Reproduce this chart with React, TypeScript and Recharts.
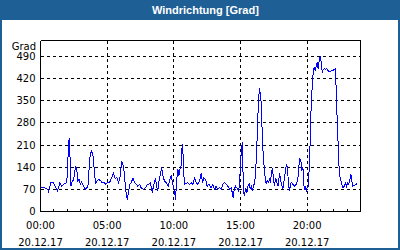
import { LineChart, Line, XAxis, YAxis, CartesianGrid, ReferenceLine } from 'recharts';

const BLUE_FRAME = '#1e5f96';
const LINE_BLUE = '#0000ff';

// Messzeitpunkte (Stunden seit 00:00) und Windrichtung in Grad
const hours = [
  0, 0.15, 0.33, 0.53, 0.6, 0.78, 0.95, 1.1, 1.28, 1.45, 1.58, 1.78, 1.95, 2.03, 2.08, 2.15, 2.2, 2.28, 2.35, 2.48,
  2.58, 2.65, 2.73, 2.8, 2.9, 2.98, 3.08, 3.23, 3.35, 3.48, 3.58, 3.65, 3.73, 3.83, 3.93, 4.03, 4.13, 4.23, 4.38, 4.53,
  4.65, 4.78, 4.9, 5.03, 5.2, 5.33, 5.48, 5.6, 5.73, 5.85, 5.98, 6.08, 6.18, 6.28,
  6.38, 6.5, 6.6, 6.7, 6.8, 6.93, 7.05, 7.18, 7.3, 7.43, 7.55, 7.73, 7.88, 8.0, 8.13, 8.25, 8.38, 8.5, 8.63, 8.7,
  8.8, 8.9, 9.0, 9.08, 9.18, 9.3, 9.45, 9.58, 9.7, 9.8, 9.93, 10.05, 10.13, 10.2, 10.3, 10.38, 10.48, 10.55, 10.63, 10.7,
  10.75, 10.8, 10.93, 11.05, 11.18, 11.3, 11.43, 11.55, 11.68, 11.8, 11.93, 12.05, 12.15, 12.25, 12.38, 12.5, 12.63,
  12.8, 12.93, 13.05, 13.18, 13.3, 13.43, 13.55, 13.68, 13.8, 13.93, 14.05, 14.18, 14.3, 14.38, 14.45, 14.53, 14.63,
  14.73, 14.83, 14.93, 15.0, 15.08, 15.13, 15.18, 15.23, 15.28, 15.38, 15.48, 15.55, 15.65, 15.73, 15.8, 15.88, 15.98,
  16.08, 16.15, 16.23, 16.3, 16.35, 16.43, 16.48, 16.53, 16.58, 16.63, 16.7, 16.78, 16.85, 16.93, 17.0, 17.08, 17.18,
  17.25, 17.33, 17.4, 17.48, 17.55, 17.63, 17.73, 17.83, 17.93, 18.0, 18.08, 18.18, 18.28, 18.38, 18.45, 18.53, 18.6,
  18.68, 18.8, 18.93, 19.05, 19.18, 19.3, 19.38, 19.45, 19.53, 19.6, 19.68, 19.73, 19.78, 19.85, 19.93, 20.0, 20.08,
  20.15, 20.2, 20.25, 20.3, 20.38, 20.45, 20.53, 20.6, 20.68, 20.75, 20.83, 20.9, 20.98, 21.05, 21.13, 21.2, 21.28,
  21.38, 21.48, 21.58, 21.68, 21.8, 21.93, 22.03, 22.1, 22.18, 22.25, 22.33, 22.4, 22.48, 22.55, 22.63, 22.7, 22.78,
  22.88, 22.95, 23.03, 23.1, 23.18, 23.28, 23.35, 23.43, 23.55, 23.68, 23.75,
];

const grad = [
  75, 77, 75, 70, 63, 91, 91, 80, 65, 91, 80, 88, 91, 123, 193, 231, 191, 80, 91, 101,
  128, 144, 128, 96, 101, 86, 94, 80, 70, 75, 86, 138, 180, 191, 180, 133, 86, 96, 101, 96,
  90, 91, 86, 91, 93, 107, 120, 105, 107, 91, 112, 157, 149, 123,
  72, 38, 60, 86, 91, 105, 91, 86, 80, 86, 75, 70, 75, 86, 86, 91, 60, 86, 105, 80,
  65, 101, 117, 140, 112, 96, 91, 80, 101, 112, 86, 65, 38, 96, 133, 112, 138, 144, 214, 175,
  117, 86, 88, 91, 86, 91, 86, 105, 91, 86, 96, 120, 91, 107, 101, 80, 86,
  75, 86, 70, 80, 70, 75, 70, 86, 91, 86, 80, 70, 75, 60, 44, 70, 80,
  75, 65, 80, 159, 191, 220, 138, 70, 49, 70, 60, 80, 86, 70, 80, 65, 80,
  96, 138, 212, 296, 353, 390, 369, 359, 306, 248, 180, 138, 107, 86, 98, 91, 102,
  91, 128, 133, 102, 80, 107, 91, 80, 122, 102, 86, 70, 102, 128, 151, 133, 86,
  65, 93, 86, 80, 86, 102, 144, 165, 160, 128, 139, 102, 68, 80, 65, 75, 80,
  133, 186, 270, 333, 397, 439, 455, 444, 460, 471, 449, 476, 492, 471, 439, 449, 451,
  449, 451, 444, 441, 444, 444, 449, 451, 386, 291, 207, 133, 102, 96, 80, 75, 80,
  89, 80, 91, 86, 96, 117, 96, 80, 83, 86, 88,
];

const gradTicks = [0, 70, 140, 210, 280, 350, 420, 490];
const compassTicks = [0, 45, 90, 135, 180, 225, 270, 315, 360, 405, 450, 495, 540];
const compassLabels = ['N', 'NE', 'E', 'SE', 'S', 'SW', 'W', 'NW', 'N', 'NE', 'E', 'SE', 'S'];
const hourTicks = [0, 1, 2, 3, 4, 5, 6, 7, 8, 9, 10, 11, 12, 13, 14, 15, 16, 17, 18, 19, 20, 21, 22, 23, 24];
const majorHours = [0, 5, 10, 15, 20];
const timeLabels = ['00:00', '05:00', '10:00', '15:00', '20:00'];
const dateLabels = ['20.12.17', '20.12.17', '20.12.17', '20.12.17', '20.12.17'];

const data = hours.map((h, i) => ({ h, grad: grad[i] }));

function HourTick(props: any) {
  const { x, y, payload } = props;
  const idx = majorHours.indexOf(payload.value);
  return (
    <g>
      <line x1={x} y1={y} x2={x} y2={y - 3} stroke="#000" />
      {idx >= 0 && (
        <text textAnchor="middle" fontSize={10} fill="#000">
          <tspan x={x} y={y + 17.5}>{timeLabels[idx]}</tspan>
          <tspan x={x} y={y + 34.5}>{dateLabels[idx]}</tspan>
        </text>
      )}
    </g>
  );
}

export default function App() {
  return (
    <div
      style={{
        position: 'absolute',
        left: 0,
        top: 0,
        width: 400,
        height: 250,
        background: BLUE_FRAME,
        overflow: 'hidden',
        fontFamily: '"DejaVu Sans", sans-serif',
      }}
    >
      <div style={{ position: 'absolute', left: 2, top: 20, width: 396, height: 228, background: '#fff' }} />
      <div
        style={{
          position: 'absolute',
          left: 152,
          top: 0,
          lineHeight: '20px',
          fontFamily: '"Liberation Sans", Arial, sans-serif',
          fontWeight: 'bold',
          fontSize: 11,
          color: '#fff',
          whiteSpace: 'nowrap',
        }}
      >
        Windrichtung [Grad]
      </div>
      <div
        style={{
          position: 'absolute',
          left: 0,
          top: 41,
          width: 36,
          textAlign: 'right',
          fontSize: 10,
          lineHeight: '12px',
          color: '#000',
        }}
      >
        Grad
      </div>
      <div style={{ position: 'absolute', left: 0, top: 0, shapeRendering: 'crispEdges' }}>
        <LineChart width={400} height={250} data={data} margin={{ top: 40.5, right: 0, bottom: 0, left: 0 }}>
          <CartesianGrid vertical={false} stroke="#000" strokeDasharray="3 3" />
          {majorHours.slice(1).map((h) => (
            <ReferenceLine key={h} x={h} stroke="#000" strokeDasharray="3 3" />
          ))}
          <ReferenceLine y={540} stroke="#000" />
          <XAxis
            dataKey="h"
            type="number"
            domain={[0, 24]}
            ticks={hourTicks}
            interval={0}
            height={38.5}
            tickSize={0}
            tickMargin={0}
            tickLine={false}
            axisLine={{ stroke: '#000' }}
            tick={<HourTick />}
          />
          <YAxis
            domain={[0, 540]}
            ticks={gradTicks}
            interval={0}
            width={40.5}
            tickSize={0}
            tickMargin={5}
            tickLine={false}
            axisLine={{ stroke: '#000' }}
            tick={{ fill: '#000', fontSize: 10 }}
          />
          <YAxis
            yAxisId="right"
            orientation="right"
            domain={[0, 540]}
            ticks={compassTicks}
            interval={0}
            width={39.5}
            tickSize={3}
            tickMargin={1}
            tickLine={{ stroke: '#000' }}
            axisLine={{ stroke: '#000' }}
            tick={{ fill: '#000', fontSize: 10 }}
            tickFormatter={(v: number) => compassLabels[compassTicks.indexOf(v)]}
          />
          <Line
            type="linear"
            dataKey="grad"
            stroke={LINE_BLUE}
            strokeWidth={1}
            dot={false}
            isAnimationActive={false}
          />
        </LineChart>
      </div>
    </div>
  );
}
